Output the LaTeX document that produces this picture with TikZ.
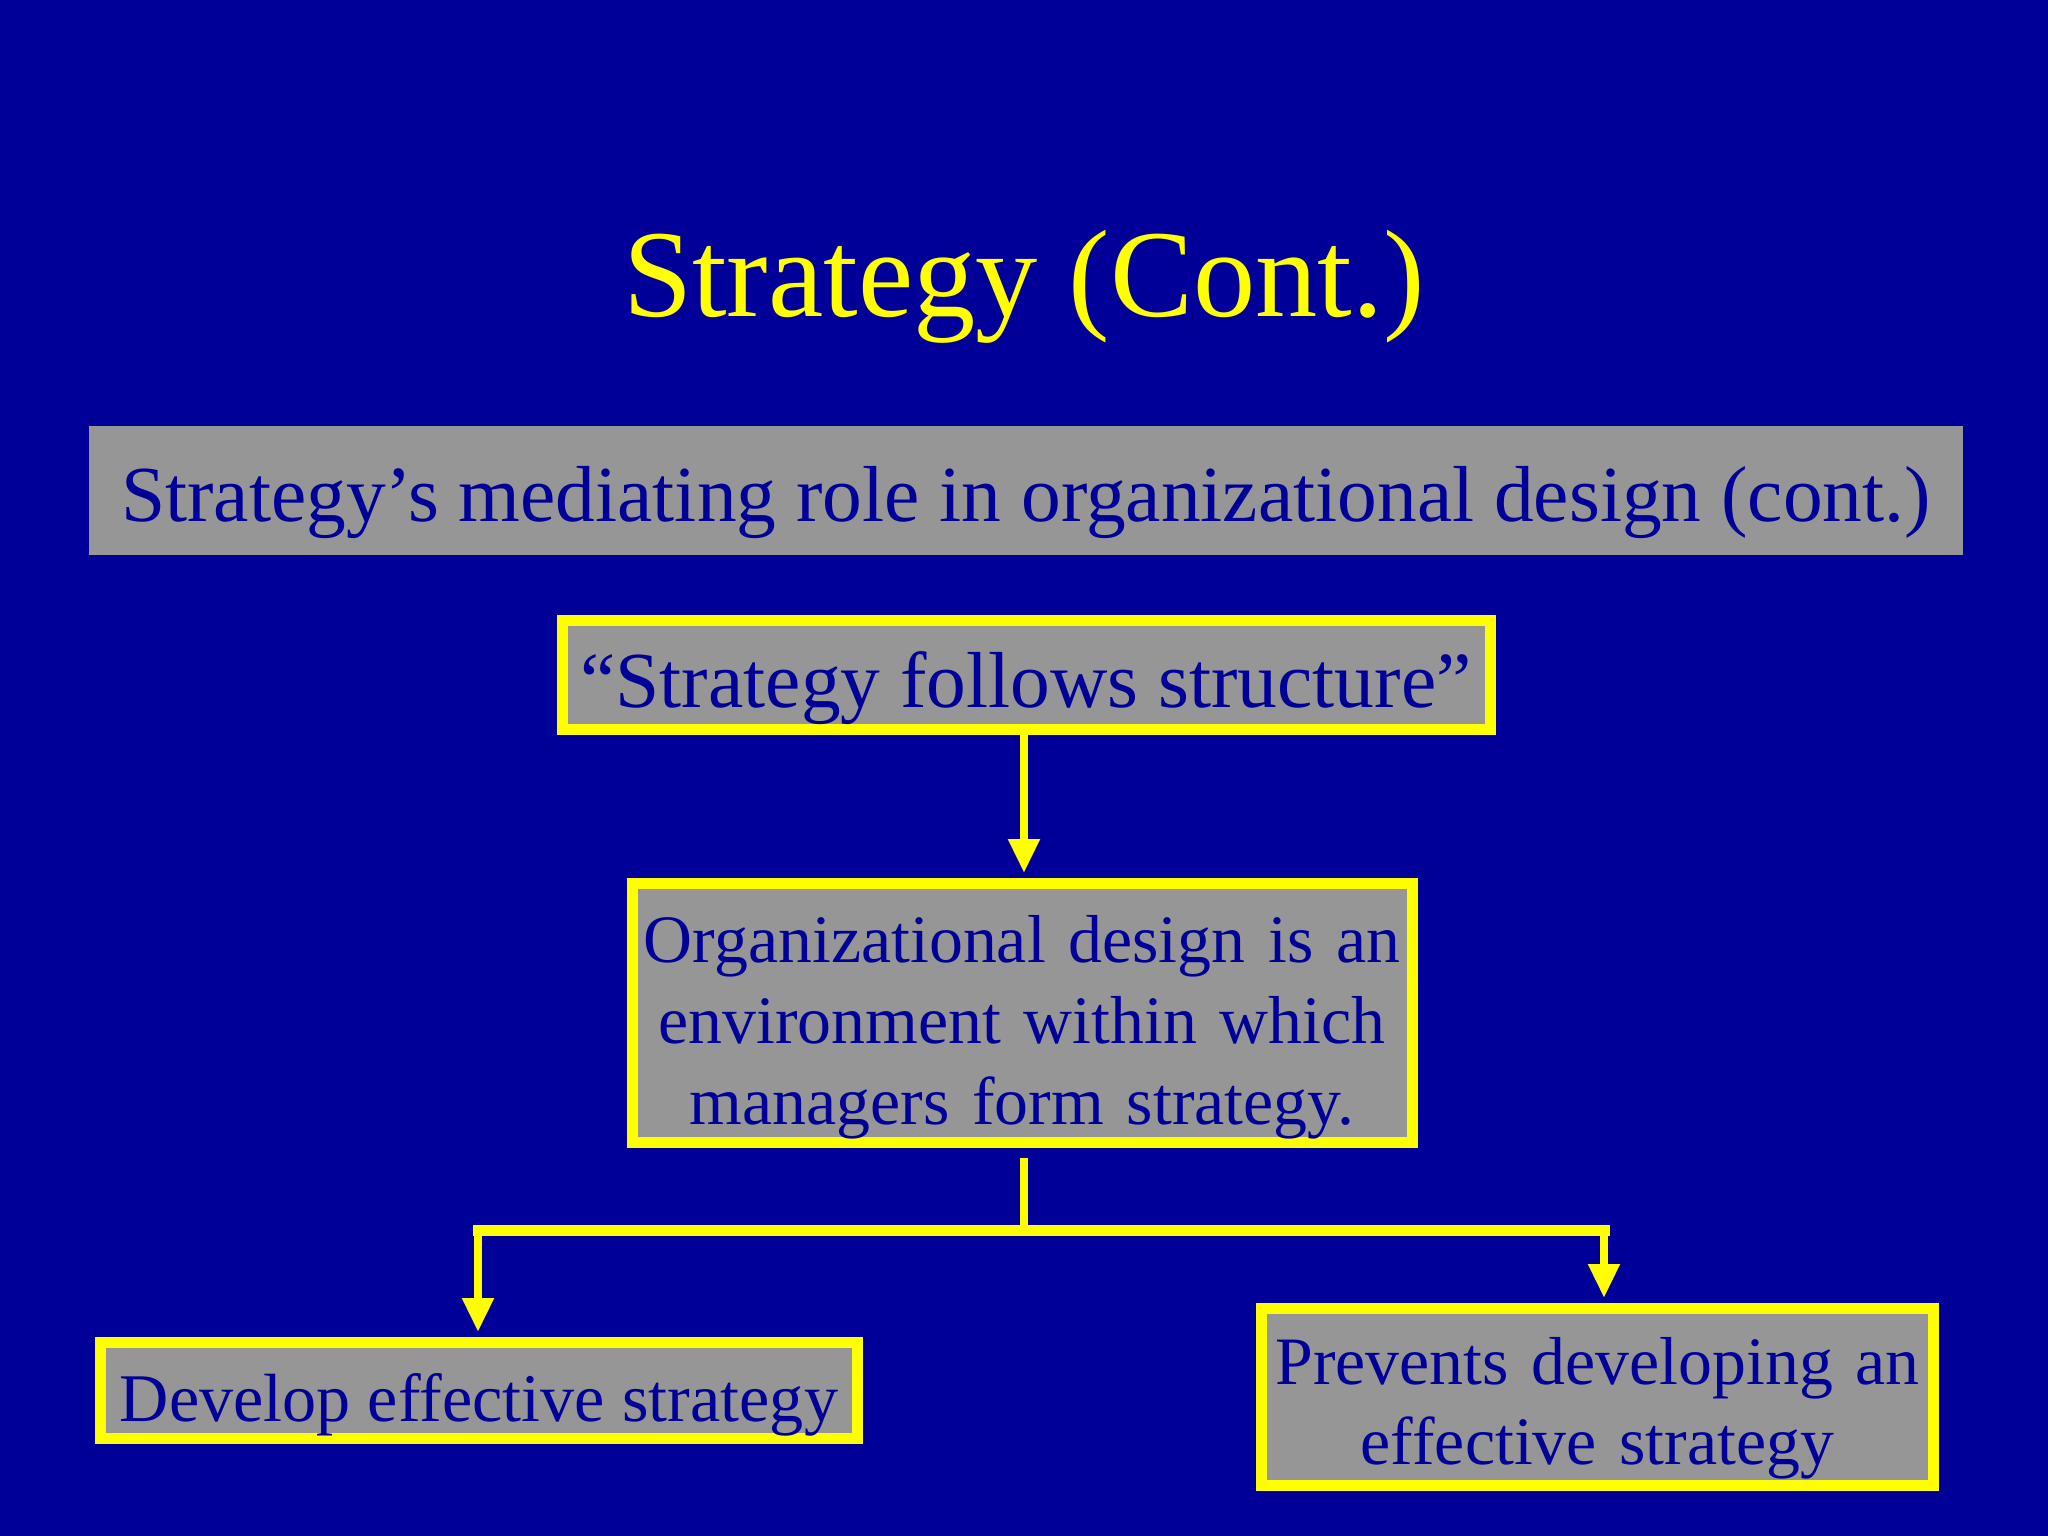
\documentclass[tikz,border=0pt]{standalone}
\usepackage{fontspec}
\setmainfont{Liberation Serif}
\usetikzlibrary{positioning}
\usetikzlibrary{arrows.meta}

\definecolor{slideblue}{RGB}{0,0,153}
\definecolor{boxgrey}{RGB}{150,150,150}
\definecolor{lineyellow}{RGB}{255,255,0}

\tikzset{
	boxtext/.style={font=\fontsize{19.3}{23}\selectfont, text=slideblue},
	bigtext/.style={font=\fontsize{22.6}{23.2}\selectfont},
	yellowbox/.style={boxtext, draw=lineyellow, fill=boxgrey, line width=0.11cm, align=center, inner sep=0pt},
	link/.style={draw=lineyellow, line width=0.08cm, -{Triangle[width=0.30cm,length=0.34cm]}, shorten >=0.05cm},
	bar/.style={draw=lineyellow, line width=0.11cm, line cap=rect},
}

\begin{document}
\begin{tikzpicture}
		\fill [slideblue] (0,0) rectangle (20.48,-15.36);
		\useasboundingbox (0,0) rectangle (20.48,-15.36);
		\node [anchor=base, text=lineyellow, font=\fontsize{35.4}{40}\selectfont] (title) at (10.24,-3.17) {Strategy (Cont.)};
		\node [boxtext, bigtext, fill=boxgrey, minimum width=18.74cm, minimum height=1.29cm, inner sep=0pt, text height=0.76cm, text depth=0.13cm] (banner) at (10.26,-4.905) {Strategy’s mediating role in organizational design (cont.)};
		\node [yellowbox, bigtext, minimum width=9.28cm, minimum height=1.09cm, text height=0.76cm, text depth=0.10cm] (follows) at (10.26,-6.75) {“Strategy follows structure”};
		\node [yellowbox, text width=7.8cm, minimum height=2.59cm, text height=0.5cm, text depth=1.51cm] (orgdesign) at (10.22,-10.13) {Organizational design is an\\ environment within which\\ managers form strategy.};
		\node [yellowbox, font=\fontsize{19.4}{23}\selectfont, minimum width=7.57cm, minimum height=0.96cm, text height=0.70cm, text depth=0.09cm] (develop) at (4.79,-13.905) {Develop effective strategy};
		\node [yellowbox, text width=6.72cm, minimum height=1.77cm, text height=0.6cm, text depth=0.86cm] (prevents) at (15.975,-13.97) {Prevents developing an\\ effective strategy};
		\coordinate (lefttop) at (4.78,-12.30);
		\coordinate (righttop) at (16.04,-12.30);
		\draw [link] (follows.south -| 10.24,0) -- (orgdesign.north -| 10.24,0);
		\draw [draw=lineyellow, line width=0.08cm] ([yshift=-0.1cm]orgdesign.south -| 10.24,0) -- (10.24,-12.30);
		\draw [bar] (lefttop) -- (righttop);
		\draw [link] (lefttop) -- (lefttop |- develop.north);
		\draw [link] (righttop) -- (righttop |- prevents.north);
	\end{tikzpicture}
\end{document}
